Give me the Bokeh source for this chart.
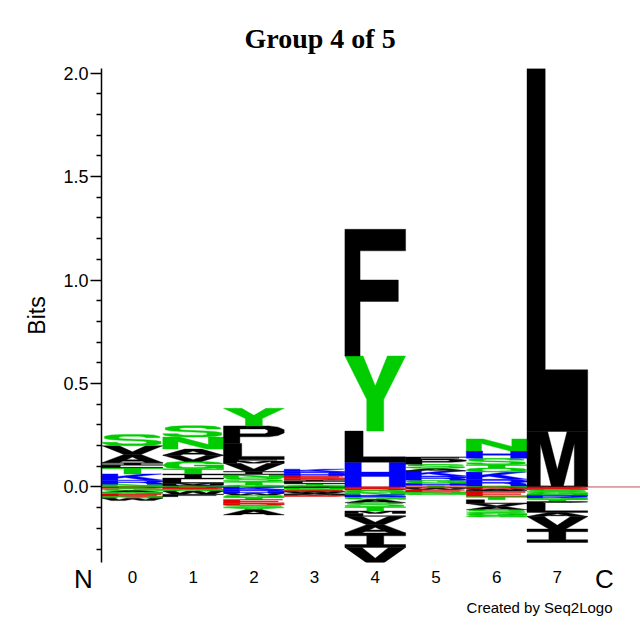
import math
from bokeh.plotting import figure
from bokeh.models import FixedTicker, PrintfTickFormatter, ColumnDataSource, Title, LinearAxis
from bokeh.embed import file_html
from bokeh.resources import INLINE

title_text = "Group 4 of 5"
y_label = "Bits"
credit = "Created by Seq2Logo"
positions = ["0", "1", "2", "3", "4", "5", "6", "7"]
ends = ["N" + "\u00a0" * 5, "C"]
end_x = [-0.509, 7.777]

# positive stacks, bottom -> top
pos_letters = [
    ["G", "N", "R", "K", "T", "L", "I", "A", "V", "S"],
    ["G", "K", "M", "L", "I", "T", "G", "V", "A", "N", "S"],
    ["G", "T", "S", "N", "I", "V", "M", "F", "L", "P", "Y"],
    ["G", "T", "L", "I", "D", "E", "H", "R", "K"],
    ["H", "L", "Y", "F"],
    ["T", "H", "G", "R", "K", "A", "S", "P", "F"],
    ["G", "R", "K", "Q", "T", "S", "H", "N"],
    ["I", "M", "L"],
]
pos_bits = [
    [0.005, 0.008, 0.020, 0.030, 0.030, 0.012, 0.012, 0.040, 0.042, 0.055],
    [0.005, 0.005, 0.008, 0.020, 0.025, 0.025, 0.035, 0.030, 0.030, 0.058, 0.055],
    [0.010, 0.015, 0.020, 0.015, 0.015, 0.040, 0.010, 0.010, 0.075, 0.085, 0.085],
    [0.008, 0.008, 0.010, 0.008, 0.008, 0.012, 0.010, 0.010, 0.012],
    [0.120, 0.150, 0.363, 0.612],
    [0.008, 0.010, 0.015, 0.020, 0.025, 0.012, 0.020, 0.025, 0.010],
    [0.005, 0.032, 0.035, 0.020, 0.015, 0.032, 0.035, 0.058],
    [0.005, 0.263, 1.754],
]
# negative stacks, top (zero) -> bottom
neg_letters = [
    ["D", "G", "A", "Q", "E", "N", "W"],
    ["D", "E", "Q", "W", "F"],
    ["K", "R", "H", "W", "Q", "T", "E", "D", "S", "Y", "A"],
    ["P", "N", "S", "E", "W", "A", "M", "D"],
    ["E", "D", "Q", "N", "K", "R", "G", "A", "S", "T", "M", "L", "V", "A", "I", "V"],
    ["D", "W", "E", "N", "C"],
    ["D", "W", "P", "E", "T", "L", "V", "A", "S", "G", "Q"],
    ["E", "D", "S", "G", "N", "R", "K", "Q", "T", "P", "L", "A", "V", "I"],
]
neg_bits = [
    [0.008, 0.010, 0.008, 0.008, 0.012, 0.008, 0.012],
    [0.006, 0.006, 0.008, 0.015, 0.012],
    [0.012, 0.010, 0.008, 0.010, 0.010, 0.010, 0.020, 0.008, 0.012, 0.010, 0.025],
    [0.005, 0.006, 0.006, 0.006, 0.006, 0.006, 0.005, 0.006],
    [0.008, 0.008, 0.010, 0.012, 0.006, 0.006, 0.010, 0.016, 0.020, 0.020, 0.012, 0.014, 0.040, 0.040, 0.070, 0.075],
    [0.006, 0.008, 0.012, 0.006, 0.006],
    [0.010, 0.006, 0.006, 0.025, 0.015, 0.018, 0.015, 0.015, 0.015, 0.012, 0.008],
    [0.008, 0.006, 0.010, 0.010, 0.006, 0.008, 0.006, 0.006, 0.010, 0.008, 0.045, 0.020, 0.060, 0.065],
]

GROUP_COLORS = {"AFILMPVW": "#000000", "CGNQSTY": "#00cc00", "HKR": "#0000ff", "DE": "#e00000"}

def letter_color(ch):
    for k, col in GROUP_COLORS.items():
        if ch in k:
            return col
    return "#000000"

# glyph outlines in a unit box: list of polygons, each = [outer ring, holes...]
SHAPES = {
    "F": [[[(0, 0), (0.25, 0), (0.25, 0.43), (0.88, 0.43), (0.88, 0.6), (0.25, 0.6), (0.25, 0.83), (1, 0.83), (1, 1), (0, 1)]]],
    "L": [[[(0, 0), (1, 0), (1, 0.17), (0.3, 0.17), (0.3, 1), (0, 1)]]],
    "Y": [[[(0, 1), (0.3, 1), (0.5, 0.6), (0.7, 1), (1, 1), (0.64, 0.42), (0.64, 0), (0.36, 0), (0.36, 0.42)]]],
    "H": [[[(0, 0), (0.27, 0), (0.27, 0.42), (0.73, 0.42), (0.73, 0), (1, 0), (1, 1), (0.73, 1), (0.73, 0.6), (0.27, 0.6), (0.27, 1), (0, 1)]]],
    "M": [[[(0, 0), (0.22, 0), (0.22, 0.78), (0.4, 0), (0.6, 0), (0.78, 0.78), (0.78, 0), (1, 0), (1, 1), (0.66, 1), (0.5, 0.3), (0.34, 1), (0, 1)]]],
    "P": [[[(0, 0), (0.27, 0), (0.27, 0.38), (0.75, 0.38), (0.9, 0.45), (1, 0.6), (1, 0.78), (0.9, 0.93), (0.75, 1), (0, 1)],
           [(0.27, 0.55), (0.68, 0.55), (0.73, 0.62), (0.73, 0.76), (0.68, 0.83), (0.27, 0.83)]]],
    "S": [[[(0.95, 0.7), (0.95, 0.82), (0.85, 0.95), (0.65, 1), (0.35, 1), (0.15, 0.95), (0.04, 0.83), (0.04, 0.65),
            (0.12, 0.55), (0.3, 0.48), (0.68, 0.4), (0.73, 0.35), (0.73, 0.22), (0.65, 0.17), (0.35, 0.17),
            (0.27, 0.22), (0.25, 0.3), (0, 0.3), (0.02, 0.17), (0.15, 0.05), (0.35, 0), (0.65, 0), (0.85, 0.05),
            (0.97, 0.17), (0.97, 0.37), (0.88, 0.47), (0.7, 0.54), (0.32, 0.62), (0.28, 0.66), (0.28, 0.78),
            (0.35, 0.83), (0.62, 0.83), (0.7, 0.78), (0.72, 0.7)]]],
    "N": [[[(0, 0), (0.25, 0), (0.25, 0.62), (0.72, 0), (1, 0), (1, 1), (0.75, 1), (0.75, 0.38), (0.28, 1), (0, 1)]]],
    "V": [[[(0, 1), (0.28, 1), (0.5, 0.3), (0.72, 1), (1, 1), (0.64, 0), (0.36, 0)]]],
    "A": [[[(0, 0), (0.28, 0), (0.34, 0.18), (0.66, 0.18), (0.72, 0), (1, 0), (0.64, 1), (0.36, 1)],
           [(0.4, 0.35), (0.6, 0.35), (0.5, 0.68)]]],
    "I": [[[(0, 0), (1, 0), (1, 0.2), (0.64, 0.2), (0.64, 0.8), (1, 0.8), (1, 1), (0, 1), (0, 0.8), (0.36, 0.8), (0.36, 0.2), (0, 0.2)]]],
    "T": [[[(0.36, 0), (0.64, 0), (0.64, 0.82), (1, 0.82), (1, 1), (0, 1), (0, 0.82), (0.36, 0.82)]]],
    "K": [[[(0, 0), (0.26, 0), (0.26, 0.3), (0.38, 0.43), (0.72, 0), (1, 0), (0.56, 0.6), (0.98, 1), (0.66, 1), (0.26, 0.58), (0.26, 1), (0, 1)]]],
    "R": [[[(0, 0), (0.26, 0), (0.26, 0.4), (0.6, 0.4), (0.72, 0.3), (0.74, 0), (1, 0), (0.98, 0.32), (0.88, 0.47), (1, 0.6), (1, 0.8), (0.9, 0.95), (0.75, 1), (0, 1)],
           [(0.26, 0.56), (0.68, 0.56), (0.74, 0.63), (0.74, 0.77), (0.68, 0.83), (0.26, 0.83)]]],
    "E": [[[(0, 0), (1, 0), (1, 0.17), (0.27, 0.17), (0.27, 0.43), (0.9, 0.43), (0.9, 0.59), (0.27, 0.59), (0.27, 0.83), (0.97, 0.83), (0.97, 1), (0, 1)]]],
    "D": [[[(0, 0), (0.6, 0), (0.85, 0.08), (1, 0.3), (1, 0.7), (0.85, 0.92), (0.6, 1), (0, 1)],
           [(0.27, 0.17), (0.55, 0.17), (0.7, 0.25), (0.73, 0.4), (0.73, 0.6), (0.7, 0.75), (0.55, 0.83), (0.27, 0.83)]]],
    "G": [[[(1, 0.67), (0.93, 0.87), (0.75, 0.98), (0.5, 1), (0.25, 0.98), (0.07, 0.85), (0, 0.5), (0.07, 0.15), (0.25, 0.02),
            (0.5, 0), (0.72, 0.03), (0.85, 0.12), (0.9, 0), (1, 0), (1, 0.53), (0.52, 0.53), (0.52, 0.37), (0.74, 0.37),
            (0.68, 0.22), (0.5, 0.17), (0.33, 0.22), (0.27, 0.35), (0.27, 0.65), (0.33, 0.78), (0.5, 0.83), (0.65, 0.79), (0.72, 0.67)]]],
    "Q": [[[(0.5, 1), (0.78, 0.97), (0.95, 0.83), (1, 0.5), (0.95, 0.17), (0.78, 0.03), (0.5, 0), (0.22, 0.03), (0.05, 0.17), (0, 0.5), (0.05, 0.83), (0.22, 0.97)],
           [(0.5, 0.82), (0.66, 0.78), (0.73, 0.65), (0.74, 0.5), (0.73, 0.35), (0.66, 0.22), (0.5, 0.18), (0.34, 0.22), (0.27, 0.35), (0.26, 0.5), (0.27, 0.65), (0.34, 0.78)]],
          [[(0.55, 0.22), (0.72, 0.32), (1, 0.08), (0.85, 0)]]],
    "C": [[[(1, 0.65), (0.93, 0.87), (0.75, 0.98), (0.5, 1), (0.25, 0.98), (0.07, 0.85), (0, 0.5), (0.07, 0.15), (0.25, 0.02),
            (0.5, 0), (0.75, 0.02), (0.93, 0.13), (1, 0.35), (0.73, 0.35), (0.68, 0.22), (0.5, 0.17), (0.33, 0.22),
            (0.27, 0.35), (0.27, 0.65), (0.33, 0.78), (0.5, 0.83), (0.68, 0.78), (0.73, 0.65)]]],
    "W": [[[(0, 1), (0.2, 1), (0.28, 0.35), (0.4, 1), (0.6, 1), (0.72, 0.35), (0.8, 1), (1, 1), (0.85, 0), (0.63, 0), (0.5, 0.6), (0.37, 0), (0.15, 0)]]],
}

xs, ys, colors = [], [], []

def add_letter(ch, col, y0, h):
    gx, gy = [], []
    for poly in SHAPES[ch]:
        px, py = [], []
        for ring in poly:
            px.append([col - 0.5 + u for u, v in ring])
            py.append([y0 + v * h for u, v in ring])
        gx.append(px)
        gy.append(py)
    xs.append(gx)
    ys.append(gy)
    colors.append(letter_color(ch))

for c in range(len(positions)):
    base = 0.0
    for ch, h in zip(pos_letters[c], pos_bits[c]):
        add_letter(ch, c, base, h)
        base += h
    base = 0.0
    for ch, h in zip(neg_letters[c], neg_bits[c]):
        add_letter(ch, c, base - h, h)
        base -= h

src = ColumnDataSource(dict(xs=xs, ys=ys, color=colors))

p = figure(width=640, height=640, x_range=(-0.51, 8.37), y_range=(-0.365, 2.022),
           output_backend="svg", toolbar_location=None,
           min_border_left=101, min_border_right=0, min_border_top=68, min_border_bottom=78)
p.outline_line_color = None
p.grid.visible = False
p.background_fill_color = "white"

p.title.text = title_text
p.title.align = "left"
p.title.offset = 143
p.title.standoff = 30
p.title.text_font = "Liberation Serif"
p.title.text_font_style = "bold"
p.title.text_font_size = "28px"
p.title.text_color = "black"

p.line(x=[-0.5, 8.5], y=[0, 0], line_color="#c05050", line_width=1)
p.multi_polygons(xs="xs", ys="ys", fill_color="color", line_color="color", line_width=0.4, source=src)

yax = p.yaxis[0]
yax.ticker = FixedTicker(ticks=[0, 0.5, 1.0, 1.5, 2.0],
                         minor_ticks=[-0.3, -0.2, -0.1, 0.1, 0.2, 0.3, 0.4, 0.6, 0.7, 0.8, 0.9,
                                      1.1, 1.2, 1.3, 1.4, 1.6, 1.7, 1.8, 1.9])
yax.formatter = PrintfTickFormatter(format="%.1f")
yax.major_tick_out = 11
yax.major_tick_in = 0
yax.minor_tick_out = 5
yax.minor_tick_in = 0
yax.axis_line_width = 1.5
yax.major_tick_line_width = 1.5
yax.minor_tick_line_width = 1.5
yax.major_label_standoff = 2
yax.major_label_text_font = "Liberation Sans"
yax.major_label_text_font_size = "18px"
yax.major_label_text_color = "black"
yax.axis_label = y_label
yax.axis_label_text_font = "Liberation Sans"
yax.axis_label_text_font_size = "23px"
yax.axis_label_text_font_style = "normal"
yax.axis_label_text_color = "black"
yax.axis_label_standoff = 10

# first bottom axis: position numbers
xax = p.xaxis[0]
xax.ticker = FixedTicker(ticks=list(range(len(positions))))
xax.major_label_overrides = {i: s for i, s in enumerate(positions)}
xax.axis_line_color = None
xax.major_tick_line_color = None
xax.minor_tick_line_color = None
xax.major_label_standoff = 2
xax.major_label_text_font = "Liberation Sans"
xax.major_label_text_font_size = "17px"
xax.major_label_text_color = "black"

# second bottom axis: N / C terminal markers, pulled up onto the same row
nax = LinearAxis(ticker=FixedTicker(ticks=end_x),
                 major_label_overrides={x: s for x, s in zip(end_x, ends)},
                 axis_line_color=None, major_tick_line_color=None, minor_tick_line_color=None,
                 major_label_standoff=-28,
                 major_label_text_font="Liberation Sans",
                 major_label_text_font_size="26px", major_label_text_color="black")
p.add_layout(nax, "below")

p.add_layout(Title(text=credit, align="right", offset=28, text_font="Liberation Sans",
                   text_font_size="15px", text_font_style="normal", text_color="black", standoff=0), "below")

open("out.html", "w").write(file_html(p, INLINE))
